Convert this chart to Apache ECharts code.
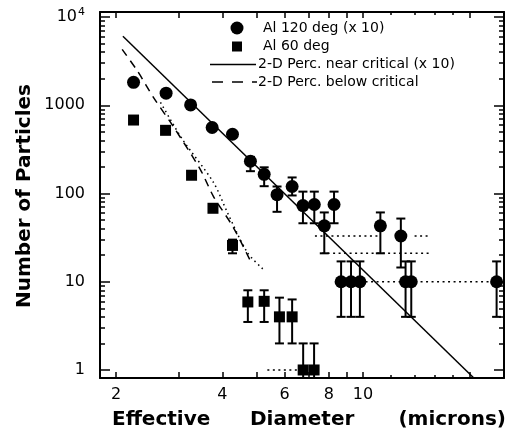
<!DOCTYPE html>
<html><head><meta charset="utf-8">
<script src="https://cdn.jsdelivr.net/npm/echarts@6/dist/echarts.min.js"></script>
<style>html,body{margin:0;padding:0;background:#fff}#c{width:508px;height:430px}</style>
</head><body><div id="c"></div>
<script>
// ---- data (diameter in microns, counts) ----
const circleX = [2.24, 2.77, 3.25, 3.74, 4.27, 4.80, 5.25, 5.71, 6.30, 6.76, 7.28, 8.28, 7.77, 11.2, 12.8, 8.67, 9.25, 9.80, 13.2, 13.7, 23.9];
const circleY = [1820, 1370, 1010, 560, 469, 232, 165, 97, 120, 73, 75, 75, 43, 43, 33, 10, 10, 10, 10, 10, 10];
const circleErrLow  = [null, null, null, null, null, 179, 121, 62, 95, 46, 46, 46, 21, 21, 14.5, 4, 4, 4, 4, 4, 4];
const circleErrHigh = [null, null, null, null, null, 260, 198, 120, 152, 105, 105, 105, 61, 61, 52, 17, 17, 17, 17, 17, 17];

const squareX = [2.24, 2.76, 3.27, 3.76, 4.27, 4.72, 5.25, 5.80, 6.30, 6.77, 7.27];
const squareY = [680, 520, 161, 68, 25.8, 5.9, 6.0, 4.0, 4.0, 1.0, 1.0];
const squareErrLow  = [null, null, null, null, 21, 3.5, 3.5, 2.0, 2.0, 0.5, 0.5];
const squareErrHigh = [null, null, null, null, 30, 8.0, 8.0, 6.6, 6.3, 2.0, 2.0];

const nearCritX = [2.09, 20.6];
const nearCritY = [6050, 0.81];
const belowCritX = [2.08, 2.30, 2.55, 2.90, 3.46, 3.77, 4.29, 4.85];
const belowCritY = [4300, 2430, 1230, 578, 188, 93, 41.5, 15.8];
const dottedX = [2.67, 3.08, 3.77, 4.13, 4.70, 5.20];
const dottedY = [1080, 412, 134, 61, 21.6, 14];
const hSegX1 = [7.31, 14.0, 7.66, 8.5, 5.36];
const hSegX2 = [11.0, 15.5, 15.5, 24.0, 6.6];
const hSegY  = [33, 33, 21, 10, 1.0];

const xTickLabels = [2, 4, 6, 8, 10];
const yTickLabels = [1, 10, 100, 1000, 10000];
const xMajorTicks = [2, 3, 4, 5, 6, 7, 8, 9, 10, 20];
const xMinorTicks = [12, 14, 16, 18];
const yMinorMult = [2, 3, 4, 5, 6, 7, 8, 9];
const xRange = [1.80, 25.08];
const yRange = [0.811, 11400];

// ---- build ----
const L = Math.log10;
const yMinorTicks = [];
yTickLabels.slice(0, -1).forEach(d => yMinorMult.forEach(m => yMinorTicks.push(d * m)));
const yMajorTicks = yTickLabels;

const BLACK = '#000';
const tickStyle = { color: BLACK, width: 1.5 };
const lineAx = { show: true, onZero: false, lineStyle: { color: BLACK, width: 2 } };
const noAx = { show: false, onZero: false };

function xAx(pos, line, ticks, len, labels) {
  return {
    type: 'value', position: pos, min: L(xRange[0]), max: L(xRange[1]),
    splitLine: { show: false },
    axisLine: line ? lineAx : noAx,
    axisTick: { show: true, inside: true, length: len, customValues: ticks.map(L), lineStyle: tickStyle },
    axisLabel: labels ? {
      show: true, customValues: labels.map(L), margin: 9,
      formatter: v => String(Math.round(Math.pow(10, v))),
      color: BLACK, fontSize: 16, fontFamily: 'DejaVu Sans'
    } : { show: false }
  };
}
function yAx(pos, line, ticks, len, labels) {
  return {
    type: 'value', position: pos, min: L(yRange[0]), max: L(yRange[1]),
    splitLine: { show: false },
    axisLine: line ? lineAx : noAx,
    axisTick: { show: true, inside: true, length: len, customValues: ticks.map(L), lineStyle: tickStyle },
    axisLabel: labels ? {
      show: true, customValues: labels.map(L), margin: 15,
      formatter: v => {
        const n = Math.round(Math.pow(10, v));
        return n >= 10000 ? '10{sup|' + Math.round(v) + '}' : String(n);
      },
      color: BLACK, fontSize: 16, fontFamily: 'DejaVu Sans',
      rich: { sup: { fontSize: 11, fontFamily: 'DejaVu Sans', color: BLACK, padding: [0, 0, 10, 1] } }
    } : { show: false }
  };
}

function errData(xs, lo, hi) {
  const out = [];
  xs.forEach((x, i) => { if (lo[i] != null) out.push([L(x), L(lo[i]), L(hi[i])]); });
  return out;
}
function errSeries(data) {
  return {
    type: 'custom', xAxisIndex: 0, yAxisIndex: 0, clip: true, z: 3, silent: true,
    encode: { x: 0, y: [1, 2] },
    renderItem: (params, api) => {
      const x = api.value(0);
      const a = api.coord([x, api.value(1)]);
      const b = api.coord([x, api.value(2)]);
      const w = 4.5;
      const st = { stroke: BLACK, lineWidth: 2, opacity: 1 };
      return { type: 'group', children: [
        { type: 'line', shape: { x1: a[0], y1: a[1], x2: b[0], y2: b[1] }, style: st },
        { type: 'line', shape: { x1: a[0] - w, y1: a[1], x2: a[0] + w, y2: a[1] }, style: st },
        { type: 'line', shape: { x1: b[0] - w, y1: b[1], x2: b[0] + w, y2: b[1] }, style: st }
      ]};
    },
    data: data
  };
}
const pairs = (xs, ys) => xs.map((x, i) => [L(x), L(ys[i])]);

const series = [
  errSeries(errData(circleX, circleErrLow, circleErrHigh)),
  errSeries(errData(squareX, squareErrLow, squareErrHigh)),
  { type: 'line', name: '2-D Perc. near critical (x 10)', data: pairs(nearCritX, nearCritY),
    symbol: 'none', clip: true, z: 2, lineStyle: { color: BLACK, width: 1.5, opacity: 1 } },
  { type: 'line', name: '2-D Perc. below critical', data: pairs(belowCritX, belowCritY),
    symbol: 'none', smooth: 0.3, clip: true, z: 2, lineStyle: { color: BLACK, width: 1.5, opacity: 1, type: [8, 6] } },
  { type: 'line', data: pairs(dottedX, dottedY), symbol: 'none', smooth: 0.3, clip: true, z: 2,
    lineStyle: { color: BLACK, width: 1.5, opacity: 1, type: [1.5, 3.5] } },
  { type: 'scatter', name: 'Al 120 deg (x 10)', data: pairs(circleX, circleY), symbol: 'circle',
    symbolSize: 13, z: 5, itemStyle: { color: BLACK, opacity: 1 } },
  { type: 'scatter', name: 'Al 60 deg', data: pairs(squareX, squareY), symbol: 'rect',
    symbolSize: 11, z: 5, itemStyle: { color: BLACK, opacity: 1 } }
];
hSegY.forEach((y, i) => {
  series.push({ type: 'line', data: [[L(hSegX1[i]), L(y)], [L(hSegX2[i]), L(y)]], symbol: 'none', clip: true, z: 2,
    lineStyle: { color: BLACK, width: 1.5, opacity: 1, type: [2, 3.5] } });
});

const legendFont = '14px DejaVu Sans';
const titleFont = 'bold 20px DejaVu Sans';
const txt = (x, y, text, font, align, rot) => ({
  type: 'text', x: x, y: y, rotation: rot || 0, silent: true,
  style: { text: text, font: font, fill: BLACK, align: align || 'left', verticalAlign: 'middle',
           textAlign: align || 'left', textVerticalAlign: 'middle' }
});

const option = {
  backgroundColor: '#fff',
  animation: false,
  grid: { left: 100, right: 4, top: 12, bottom: 52, containLabel: false, outerBoundsMode: 'none' },
  xAxis: [
    xAx('bottom', true, xMajorTicks, 6, xTickLabels),
    xAx('top', true, xMajorTicks, 6, null),
    xAx('bottom', false, xMinorTicks, 3, null),
    xAx('top', false, xMinorTicks, 3, null)
  ],
  yAxis: [
    yAx('left', true, yMajorTicks, 10, yTickLabels),
    yAx('right', true, yMajorTicks, 10, null),
    yAx('left', false, yMinorTicks, 5, null),
    yAx('right', false, yMinorTicks, 5, null)
  ],
  series: series,
  graphic: [
    { type: 'circle', shape: { cx: 237, cy: 28, r: 6.5 }, style: { fill: BLACK }, silent: true },
    { type: 'rect', shape: { x: 232, y: 41.5, width: 10, height: 10 }, style: { fill: BLACK }, silent: true },
    { type: 'line', shape: { x1: 210, y1: 64.5, x2: 256, y2: 64.5 }, style: { stroke: BLACK, lineWidth: 1.5 }, silent: true },
    { type: 'line', shape: { x1: 212, y1: 82, x2: 257, y2: 82 }, style: { stroke: BLACK, lineWidth: 1.5, lineDash: [11, 9] }, silent: true },
    txt(263, 28, 'Al 120 deg (x 10)', legendFont),
    txt(263, 46, 'Al 60 deg', legendFont),
    txt(258, 64, '2-D Perc. near critical (x 10)', legendFont),
    txt(258, 82, '2-D Perc. below critical', legendFont),
    txt(25, 196, 'Number of Particles', titleFont, 'center', Math.PI / 2),
    txt(112, 420, 'Effective', titleFont),
    txt(250, 420, 'Diameter', titleFont),
    txt(506, 420, '(microns)', titleFont, 'right')
  ]
};
const chart = echarts.init(document.getElementById('c'), null, { renderer: 'canvas' });
chart.setOption(option);
</script></body></html>
